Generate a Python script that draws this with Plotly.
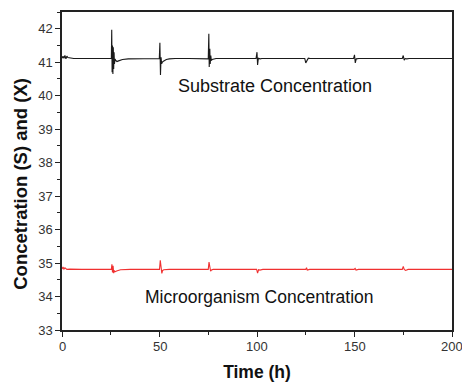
import plotly.graph_objects as go

# Substrate concentration (S)
time_s = [0, 0.5, 1.0, 1.5, 2.0, 2.5, 3.0, 4.0, 6.0, 10, 20, 25.3,
          25.5, 25.7, 25.9, 26.1, 26.3, 26.5, 26.7, 26.9, 27.2, 27.6, 28.2, 29, 31, 34, 40, 49.9,
          50.2, 50.5, 50.8, 51.1, 51.4, 51.8, 52.5, 53.5, 55, 58, 65,
          75.0, 75.3, 75.5, 75.8, 76.0, 76.3, 76.6, 77.0, 77.8, 79, 85,
          99.5, 100.0, 100.3, 100.7, 101.1, 101.6, 102.5, 110,
          124.5, 125.0, 125.6, 126.3, 127.2, 128.5, 135,
          149.5, 150.0, 150.4, 150.9, 151.4, 152.2, 160,
          174.5, 175.0, 175.5, 176.0, 176.8, 178, 190, 200]
conc_s = [41.12, 41.18, 41.12, 41.2, 41.1, 41.18, 41.14, 41.13, 41.11, 41.11, 41.11, 41.11,
          41.97, 40.70, 41.50, 40.65, 41.45, 40.80, 41.30, 40.95, 41.10, 41.05, 41.02, 41.04, 41.08, 41.10, 41.11, 41.11,
          41.58, 40.62, 41.15, 40.95, 41.00, 41.02, 41.05, 41.08, 41.10, 41.11, 41.11,
          41.10, 41.85, 40.86, 41.40, 40.95, 41.20, 41.05, 41.08, 41.10, 41.11, 41.11,
          41.11, 41.30, 40.92, 41.12, 41.10, 41.10, 41.11, 41.11,
          41.11, 40.98, 41.06, 41.12, 41.11, 41.11, 41.11,
          41.11, 41.22, 40.98, 41.10, 41.11, 41.11, 41.11,
          41.11, 41.20, 41.06, 41.11, 41.10, 41.11, 41.11, 41.11]

# Microorganism concentration (X)
time_x = [0, 0.5, 1.0, 1.5, 2.5, 4, 10, 20, 25.3,
          25.6, 25.9, 26.2, 26.5, 26.8, 27.2, 28, 30, 35,
          50.0, 50.4, 50.8, 51.2, 51.6, 52.2, 55, 65,
          75.0, 75.4, 75.8, 76.2, 76.6, 77.5, 85,
          99.8, 100.3, 100.8, 101.5, 103, 110,
          125.0, 125.4, 125.8, 127, 135,
          149.8, 150.3, 150.8, 152, 160,
          174.5, 175.0, 175.5, 176.2, 177.5, 185, 200]
conc_x = [34.82, 34.88, 34.82, 34.86, 34.81, 34.82, 34.81, 34.81, 34.81,
          34.96, 34.72, 34.92, 34.70, 34.78, 34.74, 34.76, 34.80, 34.81,
          34.81, 35.08, 34.82, 34.69, 34.78, 34.80, 34.81, 34.81,
          34.81, 35.03, 34.82, 34.76, 34.79, 34.81, 34.81,
          34.81, 34.70, 34.80, 34.79, 34.81, 34.81,
          34.81, 34.86, 34.79, 34.81, 34.81,
          34.81, 34.84, 34.79, 34.81, 34.81,
          34.81, 34.90, 34.81, 34.78, 34.81, 34.81, 34.81]

x_ticks = [0, 50, 100, 150, 200]
x_labels = ["0", "50", "100", "150", "200"]
y_ticks = [33, 34, 35, 36, 37, 38, 39, 40, 41, 42]

FONT = "Liberation Sans, Arial"

fig = go.Figure()
fig.add_trace(go.Scatter(x=time_s, y=conc_s, mode="lines",
                         line=dict(color="#1a1a1a", width=1.1), showlegend=False))
fig.add_trace(go.Scatter(x=time_x, y=conc_x, mode="lines",
                         line=dict(color="#f03030", width=1.1), showlegend=False))

fig.add_annotation(x=109, y=40.3, text="Substrate Concentration", showarrow=False,
                   font=dict(family=FONT, size=18, color="#111"))
fig.add_annotation(x=101.5, y=33.98, text="Microorganism Concentration", showarrow=False,
                   font=dict(family=FONT, size=17.5, color="#111"))
# y-axis title as rotated annotation (placed like the reference)
fig.add_annotation(xref="paper", yref="paper", x=-0.105, y=0.46, xanchor="center", yanchor="middle",
                   text="<b>Concetration (S) and (X)</b>", textangle=-90, showarrow=False,
                   font=dict(family=FONT, size=18.5, color="#111"))
# x tick labels drawn as annotations so the last one can run past the edge like the reference
for v, lab in zip(x_ticks, x_labels):
    fig.add_annotation(x=v, xref="x", y=0, yref="paper", yanchor="top", yshift=-7,
                       text=lab, showarrow=False,
                       font=dict(family=FONT, size=13, color="#333"))

axis_common = dict(showgrid=False, zeroline=False, showline=True, linecolor="#222",
                   linewidth=1.5, mirror=True, ticks="outside", ticklen=5, tickwidth=1,
                   tickcolor="#222", automargin=False,
                   tickfont=dict(family=FONT, size=13, color="#333"),
                   minor=dict(ticks="outside", ticklen=3, tickcolor="#222", showgrid=False))

fig.update_xaxes(range=[0, 200], tickvals=x_ticks, showticklabels=False, **axis_common)
fig.update_xaxes(minor=dict(dtick=25),
                 title=dict(text="<b>Time (h)</b>", standoff=30,
                            font=dict(family=FONT, size=17.5, color="#111")))
fig.update_yaxes(range=[33, 42.5], tickvals=y_ticks, **axis_common)
fig.update_yaxes(minor=dict(dtick=0.5, tick0=33))

fig.update_layout(width=462, height=385, plot_bgcolor="white", paper_bgcolor="white",
                  margin=dict(l=62, r=10, t=12, b=55))
fig.write_html("out.html")
